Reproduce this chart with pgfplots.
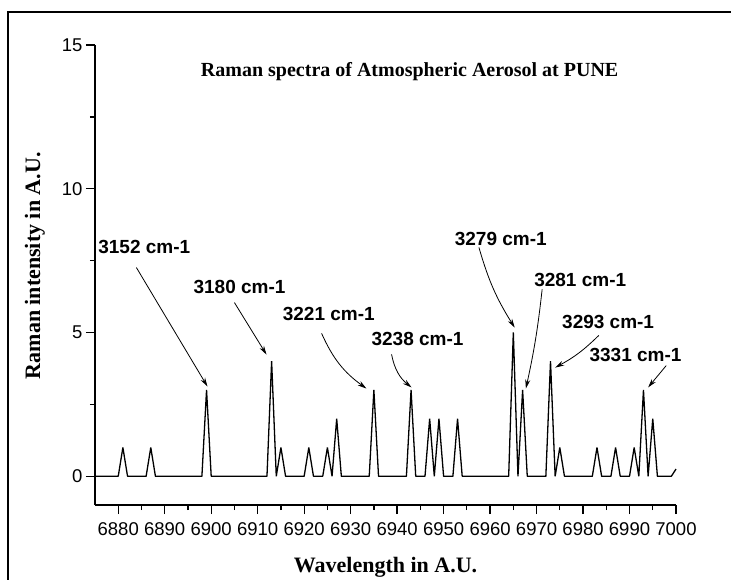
\documentclass[border=0pt]{standalone}
\usepackage{pgfplots}
\pgfplotsset{compat=1.18}
\usepackage{fontspec}
\setmainfont{Liberation Serif}
\newfontfamily\arialfont{Liberation Sans}
\usetikzlibrary{arrows.meta}
\begin{document}
\begin{tikzpicture}
\begin{axis}[
  scale only axis, width=581pt, height=460pt,
  xmin=6875, xmax=7000, ymin=-1, ymax=15,
  axis x line=bottom, axis y line=left,
  axis line style={-, line width=1.3pt},
  xtick={6880,6890,...,7000}, ytick={0,5,10,15},
  minor x tick num=1, minor y tick num=1,
  tick align=outside, major tick length=9pt, minor tick length=5pt,
  every tick/.style={line width=1.3pt, black},
  scaled x ticks=false, scaled y ticks=false,
  /pgf/number format/1000 sep={},
  /pgf/number format/assume math mode=true,
  ticklabel style={font=\fontsize{18.5}{21}\arialfont},
  xticklabel style={yshift=-5pt},
  clip=false,
  xlabel={Wavelength in A.U.},
  ylabel={Raman intensity in A.U.},
  label style={font=\fontsize{22}{26}\selectfont\bfseries},
  xlabel style={at={(axis description cs:0.5,-0.1348)}, anchor=center},
  ylabel style={at={(axis description cs:-0.1033,0.52)}, anchor=center},
]
\addplot[black, line width=1.3pt, line join=bevel, mark=none] coordinates {
(6875,0)(6880,0)(6881,1)(6882,0)(6886,0)(6887,1)(6888,0)(6898,0)(6899,3)(6900,0)
(6912,0)(6913,4)(6914,0)(6915,1)(6916,0)(6920,0)(6921,1)(6922,0)(6924,0)(6925,1)
(6926,0)(6927,2)(6928,0)(6934,0)(6935,3)(6936,0)(6942,0)(6943,3)(6944,0)(6946,0)
(6947,2)(6948,0)(6949,2)(6950,0)(6952,0)(6953,2)(6954,0)(6964,0)(6965,5)(6966,0)
(6967,3)(6968,0)(6972,0)(6973,4)(6974,0)(6975,1)(6976,0)(6982,0)(6983,1)(6984,0)
(6986,0)(6987,1)(6988,0)(6990,0)(6991,1)(6992,0)(6993,3)(6994,0)(6995,2)(6996,0)
(6999,0)(7000,0.25)
};
\node[font=\fontsize{20}{24}\selectfont\bfseries] at (axis cs:6942.7,14.08) {Raman spectra of Atmospheric Aerosol at PUNE};
\tikzset{lab/.style={font=\fontsize{19}{22}\arialfont\bfseries, inner sep=0pt},
         arr/.style={-{Stealth[length=9pt,width=5pt]}, line width=0.8pt}}
\node[lab] at (axis cs:6885.6,7.96) {3152 cm-1};
\draw[arr] (axis cs:6883.9,7.26) -- (axis cs:6899.2,3.12);
\node[lab] at (axis cs:6906.1,6.57) {3180 cm-1};
\draw[arr] (axis cs:6905.0,6.04) -- (axis cs:6911.9,4.23);
\node[lab] at (axis cs:6925.3,5.66) {3221 cm-1};
\draw[arr] (axis cs:6923.75,4.97) to[bend right=15] (axis cs:6933.4,3.05);
\node[lab] at (axis cs:6944.4,4.76) {3238 cm-1};
\draw[arr] (axis cs:6938.8,4.24) to[bend right=20] (axis cs:6943.1,3.09);
\node[lab] at (axis cs:6962.3,8.26) {3279 cm-1};
\draw[arr] (axis cs:6957.6,7.96) to[bend right=8] (axis cs:6965.3,5.17);
\node[lab] at (axis cs:6979.4,6.84) {3281 cm-1};
\draw[arr] (axis cs:6971.2,6.50) to[bend left=3] (axis cs:6967.7,3.05);
\node[lab] at (axis cs:6985.4,5.35) {3293 cm-1};
\draw[arr] (axis cs:6983.4,4.90) to[bend left=8] (axis cs:6974.0,3.78);
\node[lab] at (axis cs:6991.3,4.23) {3331 cm-1};
\draw[arr] (axis cs:6997.9,3.85) -- (axis cs:6994.0,3.09);
\end{axis}
\pgfresetboundingbox
\path[use as bounding box] ([shift={(-95pt,-74pt)}]current axis.south west) rectangle ([shift={(636pt,505pt)}]current axis.south west);
\draw[line width=1.5pt] ([shift={(-87pt,-80pt)}]current axis.south west) -- ([shift={(-87pt,493pt)}]current axis.south west) -- ([shift={(640pt,493pt)}]current axis.south west);
\end{tikzpicture}
\end{document}
